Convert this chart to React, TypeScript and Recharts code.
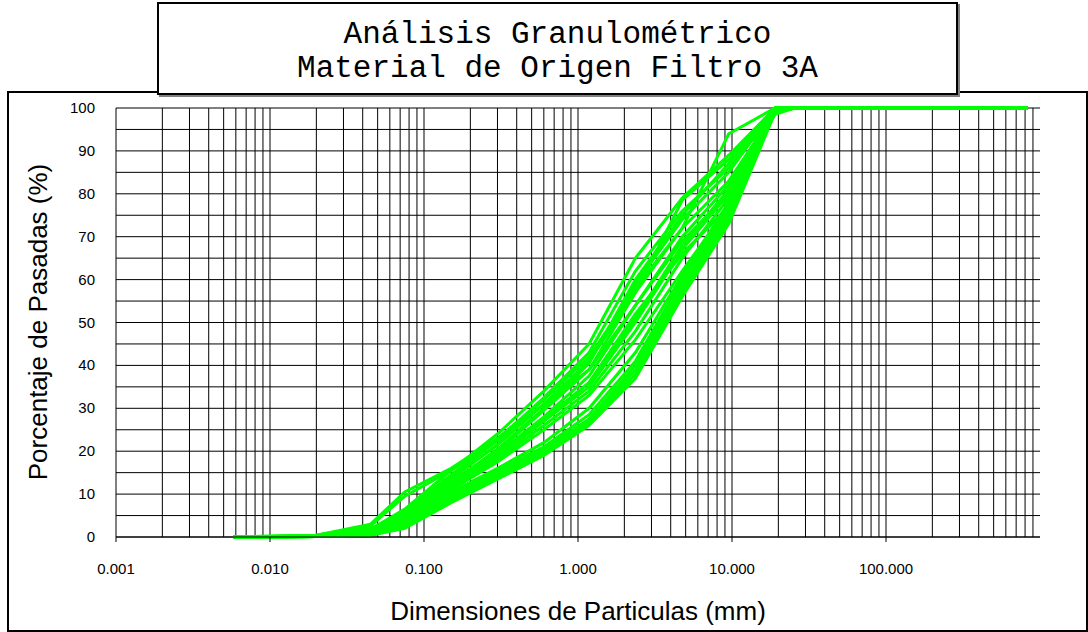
import React from 'react';
import { LineChart, Line, XAxis, YAxis, ReferenceLine } from 'recharts';

// sieve / hydrometer sizes in mm, fine to coarse
const sieveSizes = [0.0058, 0.02, 0.045, 0.075, 0.15, 0.3, 0.6, 1.18, 2.36, 4.75, 9.525, 19.05, 25.4, 830];

// percentage passing for each sample
const m1 = [0, 0.3, 1.8, 6.5, 15.5, 24, 34, 45, 65, 79, 89, 100, 100, 100];
const m2 = [0, 0.2, 1.5, 6, 14.5, 22.5, 32.5, 43, 62, 76, 86, 99, 100, 100];
const m3 = [0, 0.3, 2, 5.5, 14, 21.5, 31, 41, 59, 74, 85, 100, 100, 100];
const m4 = [0, 0.2, 1.2, 5, 13, 20, 29.5, 39, 57, 72, 83, 99, 100, 100];
const m5 = [0, 0.1, 1.5, 4.5, 12.5, 19.5, 28, 37.5, 54, 70, 82, 100, 100, 100];
const m6 = [0, 0.2, 1, 4.2, 12, 19, 27.5, 36, 51, 68, 81, 98.5, 100, 100];
const m7 = [0, 0.1, 1.2, 4, 11.5, 18.5, 27, 35, 50, 67, 80, 100, 100, 100];
const m8 = [0, 0.2, 0.8, 3.6, 11, 18, 26, 34, 48, 65, 79, 99, 100, 100];
const m9 = [0, 0.1, 1, 3.5, 11, 17.5, 25, 33, 46, 62, 77, 100, 100, 100];
const m10 = [0, 0.3, 1.8, 5.8, 13.5, 21.5, 31, 39, 54, 69, 80, 99, 100, 100];
const m11 = [0, 0.2, 1.4, 4.8, 12.5, 20.5, 30, 40.5, 60, 75, 87, 100, 100, 100];
const m12 = [0, 0.1, 1.1, 4.4, 12, 19, 27, 36, 52, 66, 77, 99.5, 100, 100];
const l1 = [0, 0.1, 0.8, 3.8, 10.5, 16, 22, 30, 43, 61, 78, 100, 100, 100];
const l2 = [0, 0.1, 0.6, 3.2, 10, 15.5, 21, 28.5, 41, 60, 77, 99, 100, 100];
const l3 = [0, 0.1, 0.5, 2.8, 9.5, 15, 20.5, 27.5, 40, 59, 76, 100, 100, 100];
const l4 = [0, 0.1, 0.5, 2.5, 9, 14.5, 20, 27, 39, 58, 75, 99, 100, 100];
const l5 = [0, 0.1, 0.4, 2.2, 8.5, 14, 19.5, 26.5, 38, 57, 74, 100, 100, 100];
const l6 = [0, 0.1, 0.4, 2, 8, 13.5, 19, 26, 37, 56, 73, 99, 100, 100];
const o1 = [0, 0.4, 3, 10.5, 16, 23, 32, 42, 58, 72, 94, 100, 100, 100];
const o2 = [0, 0.4, 2.6, 9.5, 15.5, 22.5, 31, 41, 57, 78.5, 88, 100, 100, 100];

const samples: Record<string, number[]> = { m1, m2, m3, m4, m5, m6, m7, m8, m9, m10, m11, m12, l1, l2, l3, l4, l5, l6, o1, o2 };

const xTicks = [0.001, 0.01, 0.1, 1, 10, 100];
const yTicks = [0, 10, 20, 30, 40, 50, 60, 70, 80, 90, 100];

const rows = sieveSizes.map((d, i) => {
  const row: Record<string, number> = { d };
  Object.keys(samples).forEach(k => (row[k] = samples[k][i]));
  return row;
});

// log grid: 1..9 x each decade, horizontal every 5%
const vGrid: number[] = [];
for (let e = -3; e <= 2; e++) {
  for (let k = 1; k <= 9; k++) vGrid.push(+(k * Math.pow(10, e)).toPrecision(3));
}
const hGrid: number[] = [];
for (let p = 0; p <= 100; p += 5) hGrid.push(p);

const SANS = '"Liberation Sans", Arial, sans-serif';
const MONO = '"Liberation Mono", "Courier New", monospace';

const XTick = (props: any) => {
  const { x, y, payload } = props;
  return (
    <text x={x} y={y + 11} textAnchor="middle" fontFamily={SANS} fontSize={15} fill="#000">
      {Number(payload.value).toFixed(3)}
    </text>
  );
};

const YTick = (props: any) => {
  const { x, y, payload } = props;
  return (
    <text x={x} y={y + 5} textAnchor="end" fontFamily={SANS} fontSize={15} fill="#000">
      {payload.value}
    </text>
  );
};

export default function App() {
  return (
    <div style={{ position: 'absolute', left: 0, top: 0, width: 1088, height: 632, background: '#fff', overflow: 'hidden' }}>
      <div style={{ position: 'absolute', left: 7, top: 91, width: 1081, height: 541, border: '2px solid #000', boxSizing: 'border-box' }} />
      <div style={{ position: 'absolute', left: 0, top: 0 }}>
        <LineChart width={1088} height={632} data={rows} margin={{ top: 108, right: 48, bottom: 65, left: 56 }}>
          {vGrid.map(v => (
            <ReferenceLine key={`v${v}`} x={v} stroke="#000" strokeWidth={1} />
          ))}
          {hGrid.map(v => (
            <ReferenceLine key={`h${v}`} y={v} stroke="#000" strokeWidth={1} />
          ))}
          <XAxis
            dataKey="d"
            type="number"
            scale="log"
            domain={[0.001, 1000]}
            allowDataOverflow
            ticks={xTicks}
            height={30}
            tickSize={5}
            tickMargin={21}
            axisLine={{ stroke: '#000' }}
            tickLine={{ stroke: '#000' }}
            tick={<XTick />}
          />
          <YAxis
            type="number"
            domain={[0, 100]}
            ticks={yTicks}
            width={60}
            tickSize={0}
            tickMargin={21}
            axisLine={false}
            tickLine={false}
            tick={<YTick />}
          />
          {Object.keys(samples).map(k => (
            <Line key={k} dataKey={k} type="linear" stroke="#00ff00" strokeWidth={3} dot={false} isAnimationActive={false} />
          ))}
        </LineChart>
      </div>
      <svg width={1088} height={632} style={{ position: 'absolute', left: 0, top: 0, pointerEvents: 'none' }}>
        <text x={47} y={322} transform="rotate(-90 47 322)" textAnchor="middle" fontFamily={SANS} fontSize={26} fill="#000">
          Porcentaje de Pasadas (%)
        </text>
        <text x={578} y={620} textAnchor="middle" fontFamily={SANS} fontSize={26} fill="#000">
          Dimensiones de Particulas (mm)
        </text>
      </svg>
      <div
        style={{
          position: 'absolute', left: 157, top: 2, width: 801, height: 93, border: '2px solid #000', boxSizing: 'border-box',
          background: '#fff', boxShadow: '2px 2px 0 #808080', fontFamily: MONO, fontSize: 31, color: '#000', textAlign: 'center',
        }}
      >
        <div style={{ position: 'absolute', left: 0, right: 0, top: 15, lineHeight: '32px' }}>Análisis Granulométrico</div>
        <div style={{ position: 'absolute', left: 0, right: 0, top: 49, lineHeight: '32px' }}>Material de Origen Filtro 3A</div>
      </div>
    </div>
  );
}
